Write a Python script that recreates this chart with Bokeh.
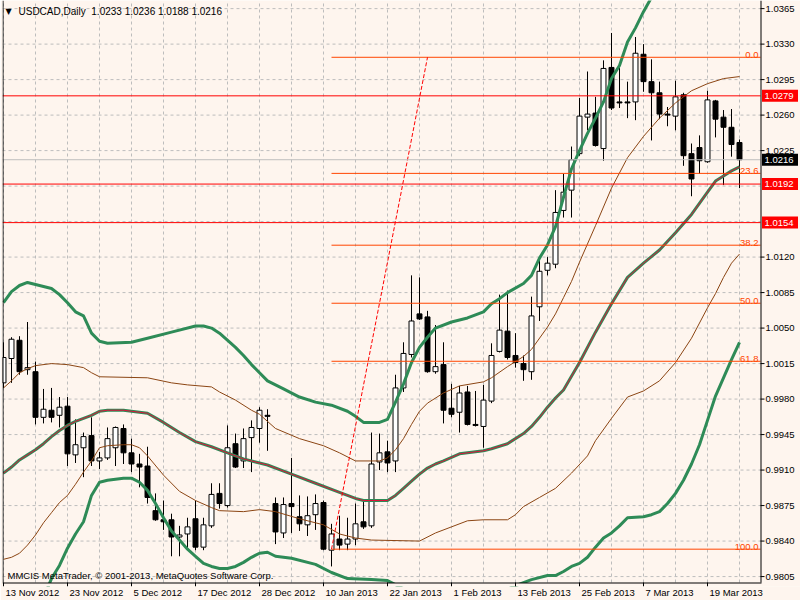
from bokeh.plotting import figure
from bokeh.models import Range1d, FixedTicker, Label, ColumnDataSource
from bokeh.core.properties import value
from bokeh.embed import file_html
from bokeh.resources import INLINE

# ---------------- data ----------------
symbol_text = "USDCAD,Daily"
last_ohlc = [1.0233, 1.0236, 1.0188, 1.0216]
copyright_text = "MMCIS MetaTrader, \u00a9 2001-2013, MetaQuotes Software Corp."

date_label_bars = [0, 8, 16, 24, 32, 40, 48, 56, 64, 72, 80, 88]
date_labels = ["13 Nov 2012", "23 Nov 2012", "5 Dec 2012", "17 Dec 2012", "28 Dec 2012",
               "10 Jan 2013", "22 Jan 2013", "1 Feb 2013", "13 Feb 2013", "25 Feb 2013",
               "7 Mar 2013", "19 Mar 2013"]
grid_bars = list(range(0, 93, 4))

price_ticks = [0.9805, 0.9840, 0.9875, 0.9910, 0.9945, 0.9980, 1.0015, 1.0050, 1.0085,
               1.0120, 1.0155, 1.0190, 1.0225, 1.0260, 1.0295, 1.0330, 1.0365]
hidden_ticks = [1.0155, 1.0190]

opens = [0.9996, 1.0020, 1.0038, 1.0009, 1.0007, 0.9962, 0.9969, 0.9964, 0.9973, 0.9925,
         0.9932, 0.9944, 0.9919, 0.9922, 0.9932, 0.9951, 0.9927, 0.9916, 0.9914, 0.9870,
         0.9861, 0.9861, 0.9844, 0.9847, 0.9862, 0.9834, 0.9855, 0.9887, 0.9875, 0.9936,
         0.9919, 0.9942, 0.9951, 0.9964, 0.9877, 0.9848, 0.9877, 0.9864, 0.9856, 0.9866,
         0.9878, 0.9831, 0.9842, 0.9837, 0.9842, 0.9859, 0.9855, 0.9918, 0.9928, 0.9919,
         0.9991, 1.0024, 1.0064, 1.0061, 1.0007, 1.0014, 0.9971, 0.9967, 0.9987, 0.9955,
         0.9953, 0.9978, 1.0027, 1.0047, 1.0023, 1.0015, 1.0007, 1.0071, 1.0107, 1.0113,
         1.0166, 1.0186, 1.0222, 1.0258, 1.0262, 1.0227, 1.0307, 1.0273, 1.0273, 1.0273,
         1.0320, 1.0293, 1.0282, 1.0261, 1.0259, 1.0280, 1.0222, 1.0228, 1.0214, 1.0274,
         1.0258, 1.0248, 1.0233]
highs = [1.0036, 1.0041, 1.0042, 1.0056, 1.0017, 0.9990, 0.9991, 0.9982, 0.9982, 0.9960,
         0.9947, 0.9962, 0.9928, 0.9952, 0.9953, 0.9955, 0.9941, 0.9926, 0.9933, 0.9887,
         0.9880, 0.9867, 0.9855, 0.9863, 0.9880, 0.9863, 0.9897, 0.9897, 0.9954, 0.9946,
         0.9951, 0.9959, 0.9972, 0.9970, 0.9883, 0.9883, 0.9922, 0.9885, 0.9884, 0.9886,
         0.9880, 0.9857, 0.9865, 0.9863, 0.9877, 0.9880, 0.9947, 0.9946, 0.9939, 1.0004,
         1.0036, 1.0102, 1.0100, 1.0067, 1.0053, 1.0036, 0.9995, 0.9993, 0.9993, 0.9988,
         0.9994, 1.0035, 1.0083, 1.0087, 1.0045, 1.0023, 1.0081, 1.0120, 1.0120, 1.0186,
         1.0202, 1.0229, 1.0277, 1.0303, 1.0278, 1.0314, 1.0341, 1.0307, 1.0293, 1.0337,
         1.0330, 1.0315, 1.0293, 1.0268, 1.0294, 1.0282, 1.0232, 1.0240, 1.0284, 1.0275,
         1.0265, 1.0266, 1.0236]
lows = [0.9991, 0.9996, 1.0004, 1.0004, 0.9955, 0.9956, 0.9957, 0.9952, 0.9914, 0.9917,
        0.9903, 0.9914, 0.9911, 0.9920, 0.9914, 0.9916, 0.9908, 0.9893, 0.9877, 0.9860,
        0.9851, 0.9825, 0.9825, 0.9831, 0.9831, 0.9831, 0.9853, 0.9872, 0.9873, 0.9912,
        0.9912, 0.9908, 0.9937, 0.9929, 0.9837, 0.9843, 0.9848, 0.9850, 0.9845, 0.9851,
        0.9831, 0.9815, 0.9831, 0.9831, 0.9836, 0.9852, 0.9853, 0.9910, 0.9908, 0.9908,
        0.9987, 1.0021, 1.0058, 1.0006, 1.0005, 0.9956, 0.9962, 0.9947, 0.9954, 0.9953,
        0.9932, 0.9976, 1.0026, 1.0019, 1.0011, 0.9998, 0.9999, 1.0057, 1.0102, 1.0109,
        1.0159, 1.0159, 1.0220, 1.0245, 1.0229, 1.0215, 1.0265, 1.0267, 1.0257, 1.0255,
        1.0283, 1.0235, 1.0256, 1.0249, 1.0245, 1.0210, 1.0180, 1.0202, 1.0213, 1.0238,
        1.0191, 1.0219, 1.0188]
closes = [1.0021, 1.0039, 1.0007, 1.0011, 0.9962, 0.9970, 0.9962, 0.9972, 0.9926, 0.9935,
          0.9943, 0.9919, 0.9922, 0.9941, 0.9952, 0.9927, 0.9916, 0.9913, 0.9883, 0.9861,
          0.9859, 0.9844, 0.9846, 0.9854, 0.9834, 0.9856, 0.9886, 0.9877, 0.9932, 0.9913,
          0.9941, 0.9952, 0.9969, 0.9963, 0.9849, 0.9876, 0.9874, 0.9857, 0.9865, 0.9877,
          0.9832, 0.9847, 0.9836, 0.9842, 0.9857, 0.9854, 0.9916, 0.9927, 0.9917, 0.9991,
          1.0025, 1.0057, 1.0059, 1.0007, 1.0012, 0.9969, 0.9965, 0.9986, 0.9955, 0.9954,
          0.9979, 1.0023, 1.0048, 1.0021, 1.0016, 1.0009, 1.0062, 1.0106, 1.0114, 1.0164,
          1.0184, 1.0216, 1.0259, 1.0261, 1.0230, 1.0306, 1.0267, 1.0272, 1.0272, 1.0321,
          1.0293, 1.0282, 1.0261, 1.0260, 1.0278, 1.0220, 1.0197, 1.0215, 1.0275, 1.0256,
          1.0248, 1.0231, 1.0216]

# Bollinger bands (deviation 2, green) - upper / middle / lower
bb2_upper_bar = [0, 1, 2, 3, 4, 6, 7, 8, 9, 10, 11, 12, 13, 16, 18, 21, 24, 25, 26, 27,
                 29, 30, 31, 32, 33, 35, 37, 39, 41, 43, 44, 45, 47, 48, 49, 50, 51, 52, 53, 54,
                 56, 58, 60, 61, 62, 63, 65, 66, 67, 68, 69, 70, 71, 72, 73, 74, 75, 76, 77, 78,
                 79, 80, 81, 82, 84, 86, 88, 90, 92]
bb2_upper = [1.0075, 1.0086, 1.0092, 1.0095, 1.0093, 1.0089, 1.0083, 1.0075, 1.0066, 1.0062,
             1.0045, 1.0037, 1.0035, 1.0036, 1.0040, 1.0046, 1.0052, 1.0052, 1.0050, 1.0045,
             1.0031, 1.0023, 1.0014, 1.0006, 0.9998, 0.9990, 0.9982, 0.9977, 0.9974, 0.9968,
             0.9963, 0.9957, 0.9957, 0.9960, 0.9977, 0.9995, 1.0016, 1.0031, 1.0041, 1.0050,
             1.0056, 1.0060, 1.0066, 1.0074, 1.0079, 1.0085, 1.0094, 1.0102, 1.0119, 1.0132,
             1.0150, 1.0179, 1.0207, 1.0225, 1.0242, 1.0257, 1.0273, 1.0296, 1.0309, 1.0332,
             1.0346, 1.0362, 1.0376, 1.0386, 1.0402, 1.0408, 1.0403, 1.0398, 1.0385]

bb_mid_bar = [0, 1, 2, 3, 4, 5, 6, 7, 8, 9, 10, 11, 12, 13, 15, 16, 18, 20, 22, 24,
              26, 28, 30, 32, 33, 36, 39, 42, 44, 45, 47, 48, 49, 50, 51, 52, 53, 54, 55, 57,
              60, 61, 63, 65, 66, 67, 68, 69, 70, 72, 74, 76, 78, 80, 82, 84, 86, 88, 89, 90,
              91, 92]
bb_mid = [0.9907, 0.9913, 0.9920, 0.9925, 0.9930, 0.9936, 0.9943, 0.9949, 0.9954, 0.9958,
          0.9961, 0.9964, 0.9968, 0.9969, 0.9969, 0.9968, 0.9966, 0.9957, 0.9947, 0.9938,
          0.9933, 0.9927, 0.9921, 0.9917, 0.9915, 0.9906, 0.9897, 0.9888, 0.9882, 0.9880,
          0.9880, 0.9880, 0.9885, 0.9892, 0.9899, 0.9906, 0.9912, 0.9916, 0.9919, 0.9926,
          0.9929, 0.9931, 0.9936, 0.9946, 0.9953, 0.9962, 0.9972, 0.9981, 0.9989, 1.0016,
          1.0046, 1.0074, 1.0100, 1.0114, 1.0127, 1.0144, 1.0162, 1.0184, 1.0195, 1.0200,
          1.0205, 1.0209]

bb2_lower_bar = [0, 2, 4, 6, 7, 8, 9, 10, 11, 12, 13, 15, 16, 17, 18, 19, 20, 21, 22, 23,
                 24, 25, 26, 27, 28, 29, 30, 31, 32, 33, 34, 36, 39, 41, 43, 46, 48, 50, 53, 56,
                 59, 62, 64, 66, 68, 69, 70, 71, 72, 73, 74, 75, 76, 77, 78, 80, 81, 82, 83, 84,
                 85, 86, 87, 88, 89, 90, 91, 92]
bb2_lower = [0.9737, 0.9749, 0.9765, 0.9803, 0.9816, 0.9833, 0.9847, 0.9859, 0.9885, 0.9898,
             0.9900, 0.9902, 0.9902, 0.9898, 0.9890, 0.9877, 0.9863, 0.9850, 0.9841, 0.9832,
             0.9825, 0.9818, 0.9815, 0.9813, 0.9813, 0.9815, 0.9819, 0.9824, 0.9828, 0.9829,
             0.9825, 0.9823, 0.9817, 0.9809, 0.9803, 0.9802, 0.9801, 0.9793, 0.9783, 0.9785,
             0.9792, 0.9789, 0.9796, 0.9802, 0.9806, 0.9806, 0.9810, 0.9815, 0.9818, 0.9824,
             0.9834, 0.9843, 0.9848, 0.9855, 0.9863, 0.9864, 0.9866, 0.9869, 0.9877, 0.9887,
             0.9900, 0.9916, 0.9935, 0.9959, 0.9983, 1.0001, 1.0019, 1.0036]

# Bollinger bands (deviation 1, brown) - upper / lower
bb1_upper_bar = [0, 1, 2, 3, 4, 6, 8, 10, 11, 12, 18, 21, 23, 26, 27, 29, 31, 32, 34, 37,
                 40, 42, 44, 47, 48, 49, 50, 51, 52, 53, 55, 57, 60, 61, 63, 65, 66, 68, 69, 70,
                 71, 72, 74, 76, 78, 80, 82, 84, 86, 88, 90, 92]
bb1_upper = [0.9991, 0.9998, 1.0006, 1.0010, 1.0013, 1.0015, 1.0014, 1.0011, 1.0006, 1.0002,
             1.0001, 0.9996, 0.9994, 0.9992, 0.9987, 0.9979, 0.9969, 0.9965, 0.9951, 0.9941,
             0.9934, 0.9927, 0.9919, 0.9919, 0.9922, 0.9930, 0.9941, 0.9955, 0.9968, 0.9976,
             0.9986, 0.9993, 0.9997, 1.0001, 1.0012, 1.0022, 1.0029, 1.0051, 1.0064, 1.0080,
             1.0096, 1.0115, 1.0151, 1.0188, 1.0218, 1.0239, 1.0257, 1.0272, 1.0284, 1.0291,
             1.0296, 1.0298]
bb1_lower_bar = [0, 1, 2, 3, 4, 5, 6, 7, 8, 9, 10, 11, 12, 13, 15, 16, 17, 18, 20, 22,
                 24, 26, 27, 30, 32, 34, 37, 40, 42, 44, 46, 52, 54, 56, 58, 60, 63, 64, 65, 67,
                 69, 71, 73, 74, 76, 78, 80, 82, 84, 86, 88, 89, 90, 91, 92]
bb1_lower = [0.9822, 0.9824, 0.9828, 0.9836, 0.9846, 0.9858, 0.9868, 0.9878, 0.9885, 0.9896,
             0.9908, 0.9919, 0.9932, 0.9934, 0.9935, 0.9935, 0.9932, 0.9924, 0.9905, 0.9889,
             0.9880, 0.9873, 0.9870, 0.9869, 0.9871, 0.9869, 0.9862, 0.9856, 0.9847, 0.9843,
             0.9841, 0.9840, 0.9848, 0.9854, 0.9860, 0.9861, 0.9861, 0.9866, 0.9874, 0.9883,
             0.9892, 0.9907, 0.9924, 0.9939, 0.9961, 0.9982, 0.9988, 0.9998, 1.0016, 1.0040,
             1.0070, 1.0084, 1.0100, 1.0114, 1.0123]

sr_levels = [1.0279, 1.0192, 1.0154]
fib_anchor_bars = [41, 53]
fib_anchor_prices = [0.9832, 1.0317]
fib_level_pcts = [0.0, 23.6, 38.2, 50.0, 61.8, 100.0]
fib_level_texts = ["0.0", "23.6", "38.2", "50.0", "61.8", "100.0"]

# ---------------- layout ----------------
BG = "#FEF5EE"
FONT = "Liberation Sans"
FSN = 9.5
FS = "9.5px"
FL = 2            # pixel x of the frame's left edge
AX = 760          # pixel x of the price scale line
CHART_B = 582     # pixel y of the chart's bottom line
FB = 586          # pixel y of the frame bottom (tick marks live between CHART_B and FB)
PX_PER_BAR = 8
PRICE_PER_PX = 0.0000986
x_start = -0.125
x_end = x_start + (800 - FL) / PX_PER_BAR
y_top = 1.0373
y_bot = y_top - FB * PRICE_PER_PX


def px2x(px):
    return x_start + (px - FL) / PX_PER_BAR


def px2y(py):
    return y_top - py * PRICE_PER_PX


# approximate advance widths (per 1000 em) for Liberation Sans, used to place date labels
ADV = {" ": 278, ".": 278}
ADV.update({d: 556 for d in "0123456789"})
ADV.update({"N": 722, "o": 556, "v": 500, "D": 722, "e": 556, "c": 500, "J": 500,
            "a": 556, "n": 556, "F": 611, "b": 556, "M": 833, "r": 333})


def text_w(t):
    return sum(ADV.get(ch, 556) for ch in t) * FSN / 1000.0


x_ax = px2x(AX)
y_chart_bot = px2y(CHART_B)

p = figure(width=800, height=600, output_backend="svg", toolbar_location=None,
           x_range=Range1d(x_start, x_end), y_range=Range1d(y_bot, y_top),
           y_axis_location=None,
           min_border_left=FL, min_border_right=0, min_border_top=0,
           min_border_bottom=600 - FB)
p.background_fill_color = BG
p.border_fill_color = BG
p.outline_line_color = None
p.xgrid.visible = False
p.ygrid.visible = False

# dashed grid
GRID = "#BDBDBD"
p.segment(x0=grid_bars, x1=grid_bars, y0=[y_chart_bot] * len(grid_bars),
          y1=[y_top] * len(grid_bars), line_color=GRID, line_dash="3 3", line_width=1)
p.segment(x0=[x_start] * len(price_ticks), x1=[x_ax] * len(price_ticks),
          y0=price_ticks, y1=price_ticks, line_color=GRID, line_dash="3 3", line_width=1)

# date axis: labels start just right of each tick mark
label_centers = [round(b + (2 + text_w(t) / 2) / PX_PER_BAR, 3)
                 for b, t in zip(date_label_bars, date_labels)]
xa = p.xaxis[0]
xa.ticker = FixedTicker(ticks=label_centers)
xa.major_label_overrides = {c: t for c, t in zip(label_centers, date_labels)}
xa.major_label_text_font = FONT
xa.major_label_text_font_size = FS
xa.major_label_text_color = "black"
xa.major_label_standoff = 0
xa.major_tick_out = 0
xa.major_tick_in = 0
xa.minor_tick_out = 0
xa.minor_tick_in = 0
xa.axis_line_color = None
xa.major_tick_line_color = None

# candles
bars = list(range(len(opens)))
src = ColumnDataSource(dict(
    x=bars, h=highs, l=lows,
    top=[max(o, c) for o, c in zip(opens, closes)],
    bottom=[min(o, c) for o, c in zip(opens, closes)],
    fill=["white" if c > o else "black" for o, c in zip(opens, closes)],
))
p.segment(x0="x", y0="h", x1="x", y1="l", source=src, line_color="black", line_width=1)
p.vbar(x="x", width=0.62, top="top", bottom="bottom", source=src,
       fill_color="fill", line_color="black", line_width=1)

# indicator lines
GREEN = "#2E8B57"
BROWN = "#8B4513"
p.line(bb1_upper_bar, bb1_upper, line_color=BROWN, line_width=1)
p.line(bb1_lower_bar, bb1_lower, line_color=BROWN, line_width=1)
p.line(bb2_upper_bar, bb2_upper, line_color=GREEN, line_width=3, line_join="round")
p.line(bb2_lower_bar, bb2_lower, line_color=GREEN, line_width=3, line_join="round")
p.line(bb_mid_bar, bb_mid, line_color=GREEN, line_width=3, line_join="round")
p.line(bb_mid_bar, bb_mid, line_color="#DC143C", line_width=1)

# keep the chart area clean below its bottom line (tick-mark strip)
p.quad(left=[x_start], right=[x_end], bottom=[y_bot], top=[px2y(CHART_B + 0.5)],
       fill_color=BG, line_color=None)

# Fibonacci retracement
FIB = "#FF4500"
f_low, f_high = fib_anchor_prices
fib_prices = [f_high - pct / 100.0 * (f_high - f_low) for pct in fib_level_pcts]
n_f = len(fib_prices)
p.segment(x0=[fib_anchor_bars[0]] * n_f, x1=[x_ax] * n_f, y0=fib_prices,
          y1=fib_prices, line_color=FIB, line_width=1)
p.line(fib_anchor_bars, fib_anchor_prices, line_color="red", line_width=1, line_dash="4 2")
p.text(x=[px2x(758)] * n_f, y=fib_prices, text=fib_level_texts, text_align="right",
       text_baseline="alphabetic", y_offset=-2, text_color=FIB,
       text_font=value(FONT), text_font_size=value(FS))

# support / resistance and current price lines
n_s = len(sr_levels)
p.segment(x0=[x_start] * n_s, x1=[x_ax] * n_s, y0=sr_levels, y1=sr_levels,
          line_color="red", line_width=1)
p.segment(x0=[x_start], x1=[x_ax], y0=[closes[-1]], y1=[closes[-1]],
          line_color="#BEBEBE", line_width=1)

# chart frame: left border, bottom line with date tick marks, price scale line
p.segment(x0=[px2x(FL + 0.5)], x1=[px2x(FL + 0.5)], y0=[y_chart_bot], y1=[y_top],
          line_color="black", line_width=1)
p.segment(x0=[x_start], x1=[px2x(AX + 1)], y0=[px2y(CHART_B + 0.5)], y1=[px2y(CHART_B + 0.5)],
          line_color="black", line_width=1)
p.segment(x0=date_label_bars, x1=date_label_bars, y0=[y_chart_bot] * len(date_label_bars),
          y1=[y_bot] * len(date_label_bars), line_color="black", line_width=1)
p.segment(x0=[px2x(AX + 0.5)], x1=[px2x(AX + 0.5)], y0=[y_chart_bot], y1=[y_top],
          line_color="black", line_width=1)
shown_ticks = [t for t in price_ticks if t not in hidden_ticks]
p.segment(x0=[px2x(AX)] * len(shown_ticks), x1=[px2x(AX + 4)] * len(shown_ticks),
          y0=shown_ticks, y1=shown_ticks, line_color="black", line_width=1)
p.text(x=[px2x(AX + 5)] * len(shown_ticks), y=shown_ticks,
       text=[f"{t:.4f}" for t in shown_ticks], text_align="left", text_baseline="middle",
       text_color="black", text_font=value(FONT), text_font_size=value(FS))

# price boxes on the price scale
box_levels = sr_levels + [closes[-1]]
box_colors = ["red"] * n_s + ["black"]
p.rect(x=[px2x(AX + 19.5)] * len(box_levels), y=box_levels, width=36, height=12,
       width_units="screen", height_units="screen", fill_color=box_colors, line_color=None)
p.text(x=[px2x(AX + 4)] * len(box_levels), y=box_levels,
       text=[f"{v:.4f}" for v in box_levels], text_align="left", text_baseline="middle",
       text_color="white", text_font=value(FONT), text_font_size=value(FS))

# title & copyright
p.add_layout(Label(x=px2x(5), y=px2y(11), text="\u25BC", text_align="left",
                   text_baseline="middle", text_color="black", text_font="DejaVu Sans",
                   text_font_size="8px"))
title = symbol_text + "\u00a0\u00a0" + " ".join(f"{v:.4f}" for v in last_ohlc)
p.add_layout(Label(x=px2x(18), y=px2y(11), text=title, text_align="left",
                   text_baseline="middle", text_color="black", text_font=FONT,
                   text_font_size="10px"))
p.add_layout(Label(x=px2x(7), y=px2y(575), text=copyright_text, text_align="left",
                   text_baseline="middle", text_color="black", text_font=FONT,
                   text_font_size=FS))

open("out.html", "w").write(file_html(p, INLINE))
